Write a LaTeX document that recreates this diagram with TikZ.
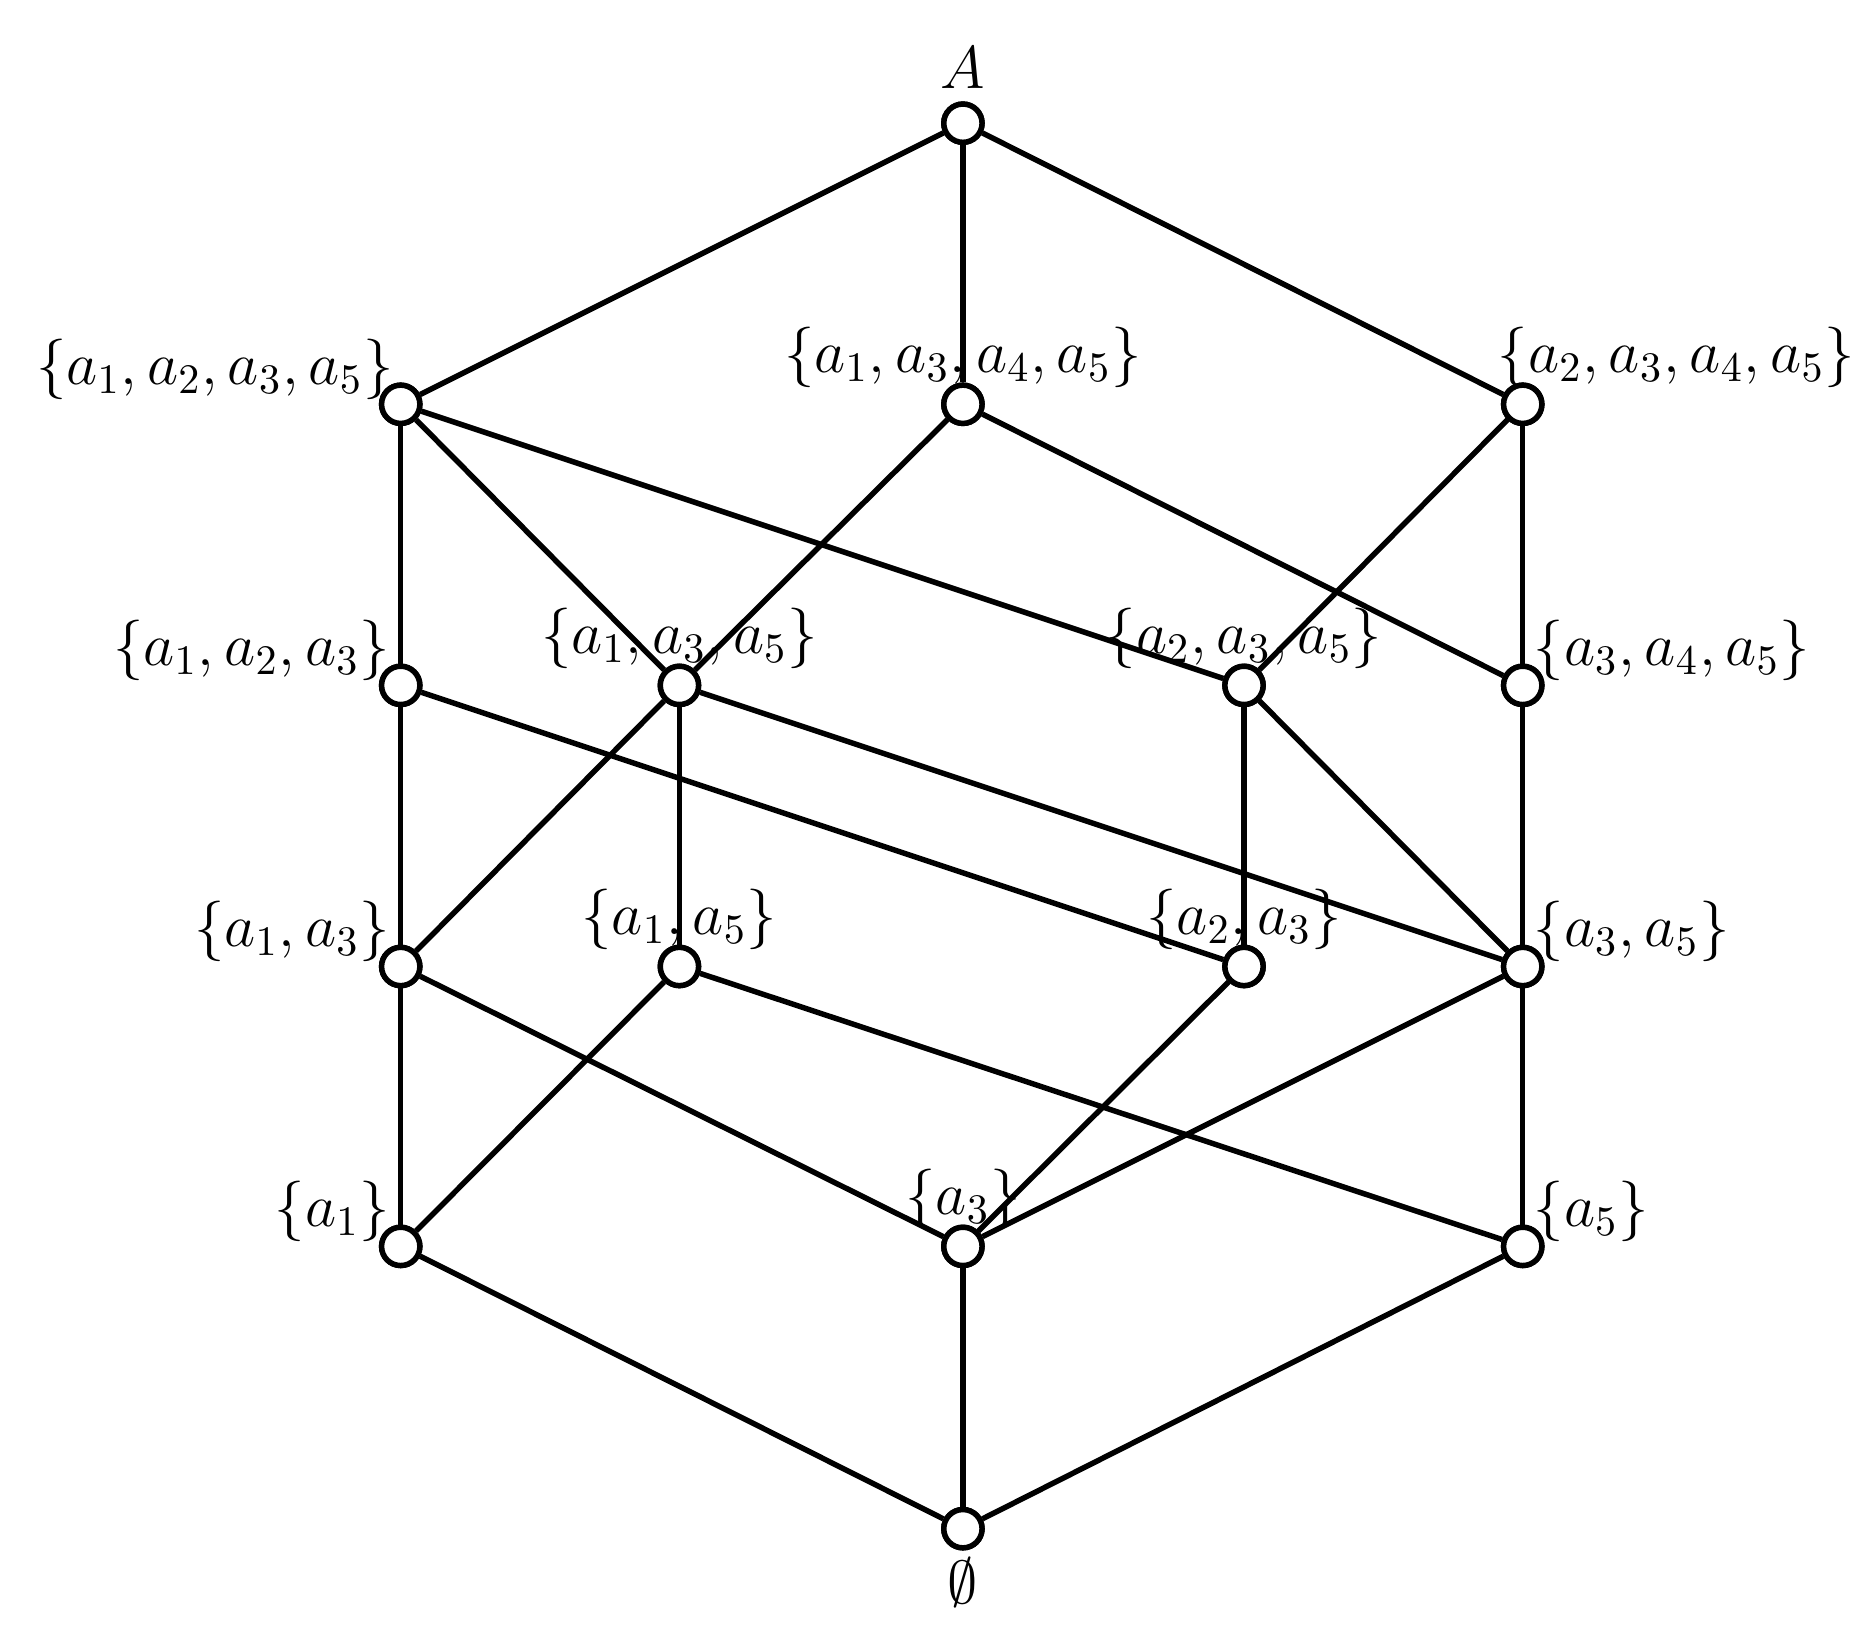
\documentclass[tikz,border=0pt]{standalone}
\begin{document}
\begin{tikzpicture}[x=1cm,y=1cm,
  v/.style={circle,draw,line width=1.3pt,fill=white,minimum size=0.32cm,inner sep=0pt},
  e/.style={line width=1.3pt},
  lab/.style={font=\fontsize{14.5}{17}\selectfont,inner sep=1pt}]
\useasboundingbox (0,0) rectangle (15.6,13.6);
\def\P(#1,#2){(#1/100,{(1360-#2)/100})}
\node[v] (A) at \P(805,103) {};
\node[v] (n1235) at \P(335,338) {};
\node[v] (n1345) at \P(805,338) {};
\node[v] (n2345) at \P(1273,338) {};
\node[v] (n123) at \P(335,573) {};
\node[v] (n135) at \P(568,573) {};
\node[v] (n235) at \P(1040,573) {};
\node[v] (n345) at \P(1273,573) {};
\node[v] (n13) at \P(335,808) {};
\node[v] (n15) at \P(568,808) {};
\node[v] (n23) at \P(1040,808) {};
\node[v] (n35) at \P(1273,808) {};
\node[v] (n1) at \P(335,1042) {};
\node[v] (n3) at \P(805,1042) {};
\node[v] (n5) at \P(1273,1042) {};
\node[v] (E) at \P(805,1278) {};
\foreach \a/\b in {A/n1235,A/n1345,A/n2345,n1235/n123,n1235/n135,n1235/n235,
 n1345/n135,n1345/n345,n2345/n235,n2345/n345,n123/n13,n123/n23,n135/n13,n135/n15,n135/n35,
 n235/n23,n235/n35,n345/n35,n13/n1,n13/n3,n15/n1,n15/n5,n23/n3,n35/n3,n35/n5,n1/E,n3/E,n5/E}
 \draw[e] (\a) -- (\b);
\foreach \n in {A,n1235,n1345,n2345,n123,n135,n235,n345,n13,n15,n23,n35,n1,n3,n5,E}
 \node[v] at (\n) {};
\node[lab,anchor=south] (lA) at ([yshift=0.25cm]A.center) {$A$};
\node[lab,anchor=north] (lE) at ([yshift=-0.2cm]E.center) {$\emptyset$};
\node[lab,anchor=south east] (l1235) at ([xshift=-0.02cm,yshift=0.0cm]n1235.center) {$\{a_1,a_2,a_3,a_5\}$};
\node[lab,anchor=south] (l1345) at ([yshift=0.1cm]n1345.center) {$\{a_1,a_3,a_4,a_5\}$};
\node[lab,anchor=south west] (l2345) at ([xshift=-0.25cm,yshift=0.1cm]n2345.center) {$\{a_2,a_3,a_4,a_5\}$};
\node[lab,anchor=south east] (l123) at ([xshift=-0.05cm,yshift=0.0cm]n123.center) {$\{a_1,a_2,a_3\}$};
\node[lab,anchor=south] (l135) at ([yshift=0.1cm]n135.center) {$\{a_1,a_3,a_5\}$};
\node[lab,anchor=south] (l235) at ([yshift=0.1cm]n235.center) {$\{a_2,a_3,a_5\}$};
\node[lab,anchor=south west] (l345) at ([xshift=0.05cm,yshift=0.0cm]n345.center) {$\{a_3,a_4,a_5\}$};
\node[lab,anchor=south east] (l13) at ([xshift=-0.05cm,yshift=0.0cm]n13.center) {$\{a_1,a_3\}$};
\node[lab,anchor=south] (l15) at ([yshift=0.1cm]n15.center) {$\{a_1,a_5\}$};
\node[lab,anchor=south] (l23) at ([yshift=0.1cm]n23.center) {$\{a_2,a_3\}$};
\node[lab,anchor=south west] (l35) at ([xshift=0.05cm,yshift=0.0cm]n35.center) {$\{a_3,a_5\}$};
\node[lab,anchor=south east] (l1) at ([xshift=-0.05cm,yshift=0.0cm]n1.center) {$\{a_1\}$};
\node[lab,anchor=south] (l3) at ([yshift=0.1cm]n3.center) {$\{a_3\}$};
\node[lab,anchor=south west] (l5) at ([xshift=0.05cm,yshift=0.0cm]n5.center) {$\{a_5\}$};
\end{tikzpicture}
\end{document}
